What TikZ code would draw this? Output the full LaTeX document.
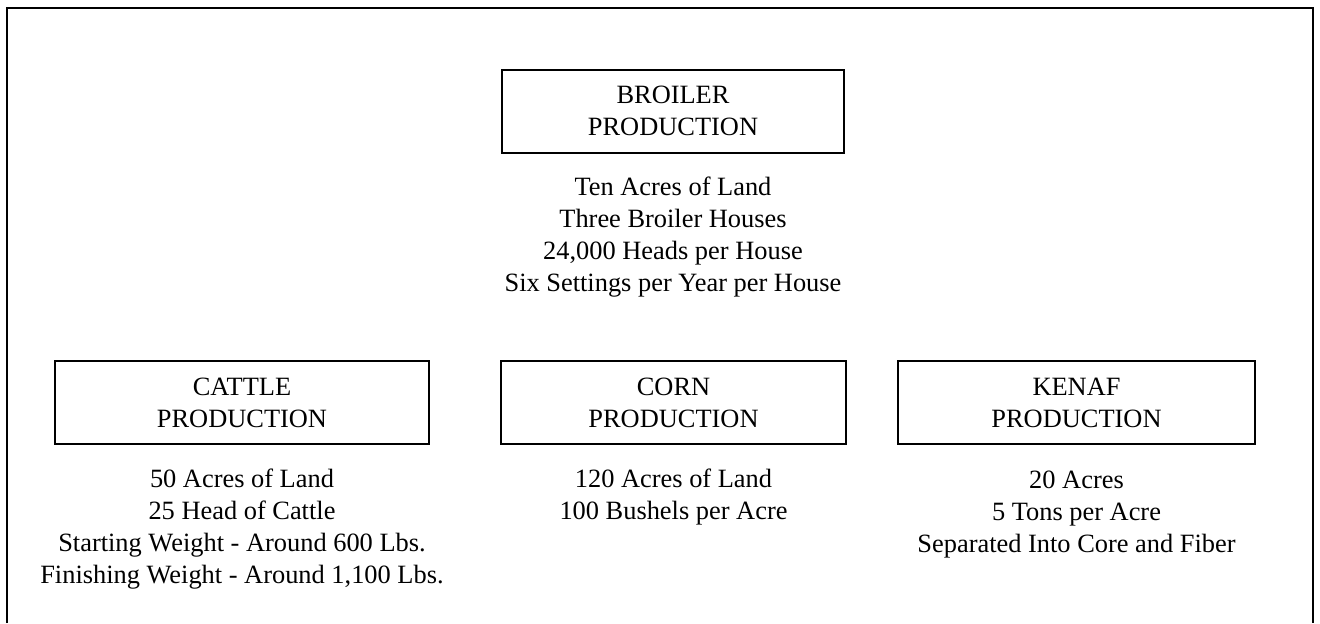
\documentclass[tikz,border=0pt]{standalone}
\usepackage{fontspec}
\setmainfont{Liberation Serif}
\usetikzlibrary{positioning}

\begin{document}
\begin{tikzpicture}[
        x=0.5pt, y=-0.5pt,
        node distance=11.5pt,
        every node/.style={
            font=\fontsize{13.2}{16}\selectfont,
            align=center
        },
        prodbox/.style={
            draw=black,
            line width=1pt,
            minimum height=41.5pt,
            inner sep=0pt
        },
        facts/.style={
            inner sep=0pt,
            anchor=north
        }
    ]
        \useasboundingbox (0,0) rectangle (1320,623);

        % Outer frame (open at the bottom)
        \coordinate (FL) at (7,623);
        \coordinate (FR) at (1313,623);
        \draw[line width=1pt] (FL) |- (1313,8) -- (FR);

        % Production boxes
        \node[prodbox, minimum width=171pt] (broiler) at (673,111) {BROILER\\PRODUCTION};
        \node[prodbox, minimum width=187pt] (cattle) at (242,402.5) {CATTLE\\PRODUCTION};
        \node[prodbox, minimum width=172.5pt] (corn) at (673.5,402.5) {CORN\\PRODUCTION};
        \node[prodbox, minimum width=178.5pt] (kenaf) at (1076.5,402.5) {KENAF\\PRODUCTION};

        % Details under each box
        \node[facts, below=of broiler] (broilerfacts) {Ten Acres of Land\\Three Broiler Houses\\24,000 Heads per House\\Six Settings per Year per House};
        \node[facts, below=of cattle] (cattlefacts) {50 Acres of Land\\25 Head of Cattle\\Starting Weight - Around 600 Lbs.\\Finishing Weight - Around 1,100 Lbs.};
        \node[facts, below=of corn] (cornfacts) {120 Acres of Land\\100 Bushels per Acre};
        \node[facts, below=12.6pt of kenaf] (kenaffacts) {20 Acres\\5 Tons per Acre\\Separated Into Core and Fiber};
    \end{tikzpicture}
\end{document}
